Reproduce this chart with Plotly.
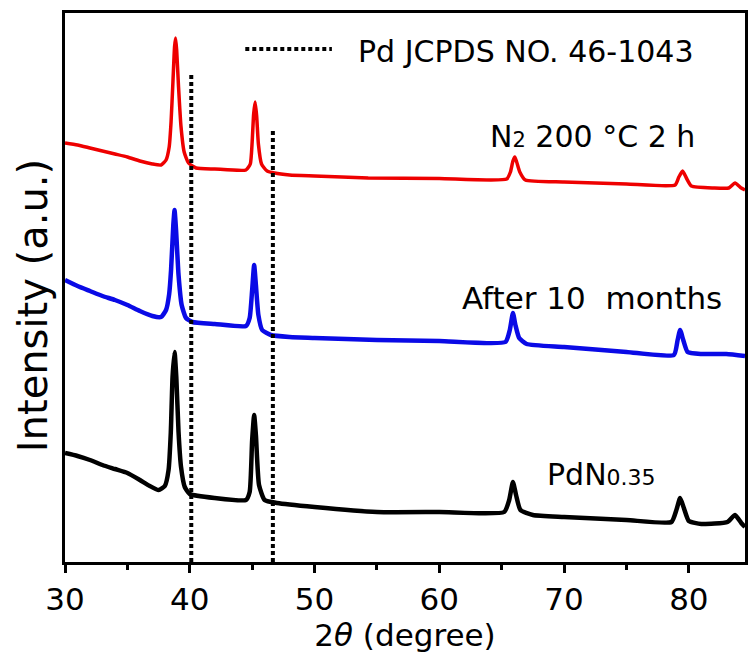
import plotly.graph_objects as go

# ---- data (2theta in degrees, intensity in a.u.) ----
red_x = [30.0, 31.0, 32.0, 33.0, 34.0, 35.0, 36.0, 37.0, 37.7, 38.1, 38.35, 38.5, 38.65, 38.78, 38.86,
         38.95, 39.1, 39.3, 39.55, 39.9, 40.5, 42.0, 44.5, 44.85, 45.0, 45.12, 45.24, 45.36, 45.5, 45.75,
         46.2, 48.0, 50.0, 54.3, 60.0, 65.4, 65.7, 65.9, 66.05, 66.2, 66.45, 66.9, 70.0, 75.0, 78.9,
         79.2, 79.5, 79.8, 80.2, 82.0, 83.2, 83.7, 84.2, 84.5]
red_y = [419, 417, 414, 411, 408, 405, 401, 398, 397, 402, 415, 440, 480, 515, 524,
         512, 475, 435, 410, 399, 394, 393, 392, 398, 420, 448, 460, 446, 418, 398,
         391, 387, 386, 384, 383.5, 383, 390, 401, 405, 400, 390, 382, 380, 378, 377,
         385, 391, 384, 376, 374, 374, 379, 374, 372]

blue_x = [30.0, 31.0, 32.0, 33.0, 34.0, 35.0, 36.0, 37.0, 37.7, 38.1, 38.35, 38.5, 38.68, 38.78, 38.9,
          39.1, 39.35, 39.7, 40.2, 42.0, 44.5, 44.8, 45.0, 45.16, 45.3, 45.5, 45.8, 46.5, 48.0, 50.0,
          55.0, 60.0, 65.3, 65.65, 65.9, 66.1, 66.4, 67.0, 70.0, 75.0, 78.8, 79.1, 79.3, 79.55, 79.9,
          81.0, 83.0, 84.5]
blue_y = [282, 276, 271, 266, 262, 257, 251, 246, 245, 252, 268, 292, 337, 352, 332,
          287, 257, 244, 240, 238, 236, 244, 272, 297, 277, 247, 232, 227, 225, 224,
          222, 221, 220, 232, 249, 237, 224, 218, 215, 210, 207, 222, 232, 222, 210,
          208, 208, 206]

black_x = [30.0, 31.0, 32.0, 33.0, 34.0, 35.0, 36.0, 36.8, 37.5, 38.0, 38.3, 38.48, 38.62, 38.78, 38.92,
           39.1, 39.3, 39.6, 40.0, 42.0, 44.5, 44.8, 45.0, 45.16, 45.3, 45.55, 46.0, 47.0, 50.0, 55.0,
           60.0, 65.2, 65.6, 65.9, 66.15, 66.5, 67.5, 70.0, 75.0, 78.6, 79.0, 79.3, 79.6, 80.0, 81.0,
           83.1, 83.7, 84.2, 84.5]
black_y = [109, 106, 102, 97, 93, 89, 82, 76, 72, 76, 92, 130, 185, 210, 185,
           130, 95, 75, 68, 64, 62, 70, 122, 147, 127, 77, 62, 59, 55, 50,
           50, 50, 62, 80, 67, 52, 47, 45, 42, 40, 52, 64, 54, 41, 38,
           40, 47, 39, 35]

# Pd reference lines (JCPDS 46-1043) and their drawn heights
ref_pos = [40.12, 46.66]
ref_top = [487, 432]

FONT = "DejaVu Sans"

fig = go.Figure()
fig.add_trace(go.Scatter(x=black_x, y=black_y, mode="lines",
                         line=dict(color="#000000", width=4.5, shape="spline", smoothing=0.5)))
fig.add_trace(go.Scatter(x=blue_x, y=blue_y, mode="lines",
                         line=dict(color="#0a0ae6", width=4.5, shape="spline", smoothing=0.5)))
fig.add_trace(go.Scatter(x=red_x, y=red_y, mode="lines",
                         line=dict(color="#ee0000", width=3.5, shape="spline", smoothing=0.5)))
for xp, yt in zip(ref_pos, ref_top):
    fig.add_trace(go.Scatter(x=[xp, xp], y=[0, yt], mode="lines",
                             line=dict(color="black", width=4, dash="4px,3px")))

# legend sample line
fig.add_shape(type="line", xref="x", yref="y", x0=44.45, x1=51.39, y0=513, y1=513,
              line=dict(color="black", width=4, dash="4px,3px"))

fig.add_annotation(x=53.3, y=511, text="Pd JCPDS NO. 46-1043", showarrow=False,
                   xanchor="left", yanchor="middle", font=dict(family=FONT, size=30, color="black"))
fig.add_annotation(x=63.92, y=426,
                   text="N<span style='font-size:21px'>2</span> 200 °C 2 h", showarrow=False,
                   xanchor="left", yanchor="middle", font=dict(family=FONT, size=30, color="black"))
fig.add_annotation(x=61.68, y=264, text="After 10\u00a0 months", showarrow=False,
                   xanchor="left", yanchor="middle", font=dict(family=FONT, size=31, color="black"))
fig.add_annotation(x=68.47, y=88,
                   text="PdN<span style='font-size:22px'>0.35</span>", showarrow=False,
                   xanchor="left", yanchor="middle", font=dict(family=FONT, size=30, color="black"))
# y-axis title
fig.add_annotation(x=-0.047, y=0.466, xref="paper", yref="paper", text="Intensity (a.u.)",
                   textangle=-90, showarrow=False, xanchor="center", yanchor="middle",
                   font=dict(family=FONT, size=40, color="black"))

fig.update_layout(
    width=748, height=657,
    margin=dict(l=65, r=0, t=13, b=95),
    plot_bgcolor="white", paper_bgcolor="white",
    showlegend=False,
    font=dict(family=FONT, color="black"),
)
fig.update_xaxes(
    range=[30, 84.5], showgrid=False, zeroline=False,
    showline=True, linecolor="black", linewidth=3, mirror=True,
    ticks="outside", tickwidth=3, ticklen=8, tickcolor="black", dtick=10, tick0=30,
    minor=dict(ticks="outside", dtick=5, tick0=30, ticklen=5, tickwidth=3, tickcolor="black"),
    tickfont=dict(family=FONT, size=31, color="black"),
    title=dict(text="2<i>θ</i> (degree)", font=dict(family=FONT, size=31, color="black"), standoff=4),
)
fig.update_yaxes(
    range=[0, 549], showgrid=False, zeroline=False,
    showline=True, linecolor="black", linewidth=3, mirror=True,
    ticks="", showticklabels=False,
)

fig.write_html("out.html")
